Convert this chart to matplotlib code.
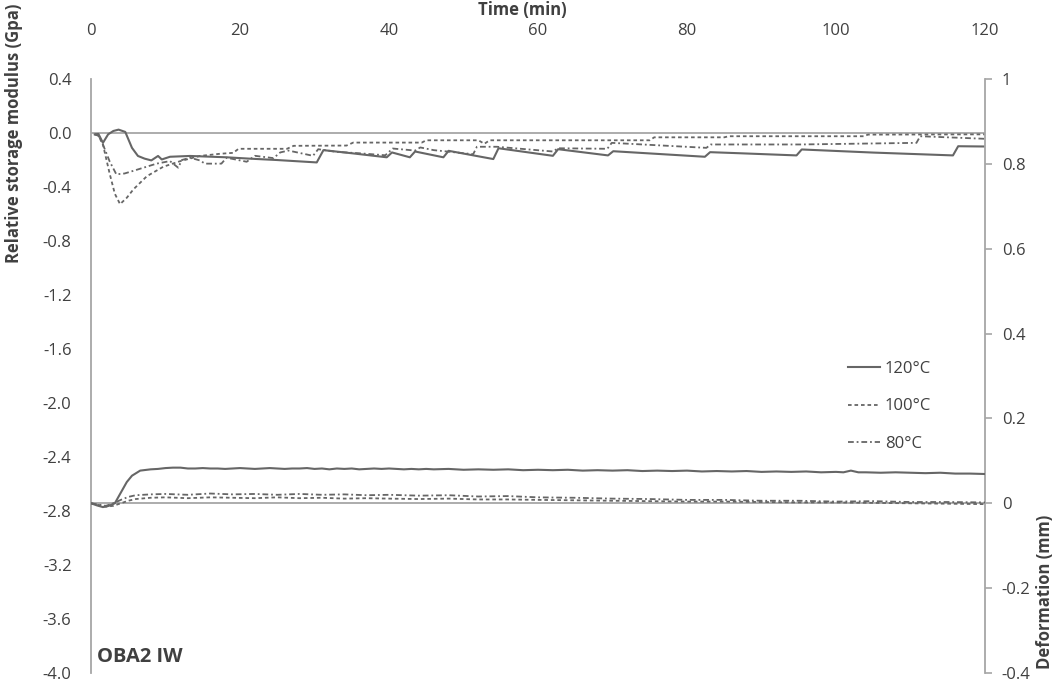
import matplotlib
matplotlib.use("Agg")
import matplotlib.pyplot as plt

plt.rcParams['font.family'] = ['Open Sans', 'DejaVu Sans']

# ---------------- data ----------------
# Relative storage modulus (GPa), left axis
t_g120 = [0.5, 1.0, 1.6, 2.3, 3.0, 3.7, 4.6, 5.5, 6.3, 7.2, 8.1, 9.0, 9.5, 10.6, 13.3, 18.2,
          21.3, 24.9, 30.3, 31.2, 35.0, 39.7, 40.4, 42.8, 43.5, 47.3, 48.0, 54.0, 54.7, 62.0,
          62.7, 69.4, 70.1, 82.4, 83.1, 87.1, 94.7, 95.4, 105.0, 115.7, 116.4, 120.0]
g120 = [-0.01, -0.007, -0.073, -0.01, 0.015, 0.025, 0.008, -0.11, -0.17, -0.19, -0.203, -0.17,
        -0.196, -0.176, -0.17, -0.18, -0.19, -0.2, -0.218, -0.127, -0.15, -0.18, -0.144, -0.18,
        -0.137, -0.18, -0.132, -0.193, -0.113, -0.169, -0.12, -0.166, -0.135, -0.176, -0.142,
        -0.15, -0.166, -0.122, -0.145, -0.166, -0.098, -0.1]

t_g100 = [0.5, 1.0, 1.6, 2.5, 3.2, 3.9, 4.8, 5.7, 7.5, 9.7, 11.9, 14.6, 17.3, 19.1, 19.8, 26.3,
          27.2, 34.3, 35.2, 44.4, 45.0, 52.0, 52.8, 53.5, 75.0, 75.6, 85.0, 85.6, 103.7, 104.3, 120.0]
g100 = [-0.01, -0.02, -0.085, -0.3, -0.45, -0.527, -0.48, -0.417, -0.32, -0.25, -0.21, -0.17,
        -0.154, -0.147, -0.117, -0.117, -0.095, -0.093, -0.071, -0.071, -0.054, -0.054, -0.08,
        -0.054, -0.054, -0.032, -0.032, -0.024, -0.024, -0.012, -0.01]

t_g80 = [0.5, 1.0, 1.6, 2.5, 3.4, 4.5, 5.7, 8.8, 10.6, 11.7, 12.2, 13.3, 14.6, 15.3, 17.5, 18.2,
         20.9, 22.0, 24.5, 25.4, 26.5, 29.8, 30.5, 33.0, 36.0, 39.5, 40.5, 43.5, 44.2, 46.0, 51.3,
         51.8, 54.5, 62.0, 62.7, 69.3, 69.9, 82.6, 83.2, 95.2, 110.8, 111.3, 120.0]
g80 = [-0.01, -0.02, -0.085, -0.21, -0.306, -0.3, -0.28, -0.227, -0.208, -0.257, -0.2, -0.183,
       -0.203, -0.227, -0.227, -0.183, -0.213, -0.169, -0.186, -0.144, -0.13, -0.169, -0.12,
       -0.14, -0.15, -0.165, -0.115, -0.13, -0.107, -0.127, -0.157, -0.102, -0.102, -0.137,
       -0.113, -0.117, -0.073, -0.11, -0.085, -0.085, -0.073, -0.024, -0.043]

# Deformation (mm), right axis
t_d120 = [0, 0.8, 1.6, 2.4, 3.2, 4.0, 4.8, 5.5, 6.6,
          8, 9, 10, 11, 12, 13, 14, 15, 16, 17, 18, 19, 20, 21, 22, 23, 24, 25, 26, 27, 28, 29,
          30, 31, 32, 33, 34, 35, 36, 37, 38, 39, 40, 41, 42, 43, 44, 45, 46,
          48, 50, 52, 54, 56, 58, 60, 62, 64, 66, 68, 70, 72, 74, 76, 78, 80, 82, 84, 86, 88, 90,
          92, 94, 96, 98, 100,
          101, 102, 103, 104,
          106, 108, 110, 112, 114, 116, 118, 120]
d120 = [0, -0.005, -0.009, -0.006, 0.0, 0.025, 0.05, 0.065, 0.077,
        0.080, 0.081, 0.083, 0.084, 0.084, 0.082, 0.082, 0.083, 0.082, 0.082, 0.081, 0.082, 0.083,
        0.082, 0.081, 0.082, 0.083, 0.082, 0.081, 0.082, 0.082, 0.083, 0.081, 0.082, 0.080, 0.082,
        0.081, 0.082, 0.080, 0.081, 0.082, 0.081, 0.082, 0.081, 0.080, 0.081, 0.080, 0.081, 0.080,
        0.081, 0.079, 0.080, 0.079, 0.080, 0.078, 0.079, 0.078, 0.079, 0.077, 0.078, 0.077, 0.078,
        0.076, 0.077, 0.076, 0.077, 0.075, 0.076, 0.075, 0.076, 0.074, 0.075, 0.074, 0.075, 0.073,
        0.074,
        0.073, 0.077, 0.073, 0.073,
        0.072, 0.073, 0.072, 0.071, 0.072, 0.070, 0.070, 0.069]

t_dsmall = [0, 1, 2, 3, 4, 5, 6, 8, 10, 13, 16, 19, 22, 25, 28, 31, 34, 37, 40, 44, 48, 52, 56,
            60, 65, 70, 75, 80, 85, 90, 95, 100, 105, 110, 115, 120]
d100 = [0, -0.004, -0.008, -0.006, 0.0, 0.006, 0.010, 0.013, 0.014,
        0.012, 0.014, 0.013, 0.012, 0.014, 0.012, 0.013, 0.011, 0.012, 0.011,
        0.010, 0.011, 0.009, 0.009, 0.008,
        0.007, 0.006, 0.005, 0.004, 0.004, 0.003, 0.002, 0.002, 0.001, 0.0, -0.001, -0.002]
d80 = [0, -0.003, -0.006, 0.0, 0.008, 0.015, 0.019, 0.021, 0.022,
       0.020, 0.023, 0.021, 0.022, 0.020, 0.022, 0.020, 0.021, 0.019, 0.020,
       0.018, 0.019, 0.016, 0.017, 0.014,
       0.013, 0.011, 0.010, 0.008, 0.008, 0.006, 0.006, 0.004, 0.005, 0.003, 0.003, 0.002]

labels = ['120°C', '100°C', '80°C']
x_ticks = [0, 20, 40, 60, 80, 100, 120]
left_ticks = [0.4, 0.0, -0.4, -0.8, -1.2, -1.6, -2.0, -2.4, -2.8, -3.2, -3.6, -4.0]
right_ticks = [1, 0.8, 0.6, 0.4, 0.2, 0, -0.2, -0.4]
right_labels = ['1', '0.8', '0.6', '0.4', '0.2', '0', '-0.2', '-0.4']

# ---------------- figure ----------------
W, H = 1059, 684
fig = plt.figure(figsize=(W / 100, H / 100), dpi=100)
x0, x1, ytop, ybot = 91, 985, 79, 673
ax = fig.add_axes([x0 / W, 1 - ybot / H, (x1 - x0) / W, (ybot - ytop) / H])
ax2 = ax.twinx()

txt = '#404040'
axc = '#a6a6a6'
lc = '#666666'
fs = 12

# zero lines (Excel style horizontal axes)
ax.axhline(0, color=axc, lw=1.3, zorder=1)
ax2.axhline(0, color=axc, lw=1.3, zorder=1)

s100 = (0, (2.0, 1.6))
s80 = (0, (3.2, 1.6, 1.0, 1.6))

h1, = ax.plot(t_g120, g120, color=lc, lw=1.5, ls='-', label=labels[0], zorder=3)
h2, = ax.plot(t_g100, g100, color=lc, lw=1.3, ls=s100, label=labels[1], zorder=3)
h3, = ax.plot(t_g80, g80, color=lc, lw=1.3, ls=s80, label=labels[2], zorder=3)

ax2.plot(t_d120, d120, color=lc, lw=1.5, ls='-', zorder=3)
ax2.plot(t_dsmall, d100, color=lc, lw=1.3, ls=s100, zorder=3)
ax2.plot(t_dsmall, d80, color=lc, lw=1.3, ls=s80, zorder=3)

ax.set_xlim(0, 120)
ax.set_ylim(-4.0, 0.4)
ax2.set_ylim(-0.4, 1.0)

for a in (ax, ax2):
    for s in ('top', 'bottom'):
        a.spines[s].set_visible(False)
ax.spines['right'].set_visible(False)
ax.spines['left'].set_color(axc)
ax.spines['left'].set_linewidth(1.3)
ax2.spines['left'].set_visible(False)
ax2.spines['right'].set_color(axc)
ax2.spines['right'].set_linewidth(1.3)

ax.xaxis.tick_top()
ax.set_xticks(x_ticks)
ax.set_xticklabels([str(v) for v in x_ticks])
ax.tick_params(axis='x', length=0, pad=29, labelsize=fs, labelcolor=txt)

ax.set_yticks(left_ticks)
ax.set_yticklabels([f'{v:.1f}' for v in left_ticks])
ax.tick_params(axis='y', length=0, pad=14, labelsize=fs, labelcolor=txt)

ax2.set_yticks(right_ticks)
ax2.set_yticklabels(right_labels)
ax2.tick_params(axis='y', length=5, width=1.2, color=axc, pad=7, labelsize=fs, labelcolor=txt)

fig.text(522 / W, 1 - 10 / H, 'Time (min)', ha='center', va='center',
         fontsize=12, fontweight='bold', color=txt)
fig.text(14 / W, 1 - 133 / H, 'Relative storage modulus (Gpa)', rotation=90, ha='center',
         va='center', fontsize=12, fontweight='bold', color=txt)
fig.text(1045 / W, 1 - 592 / H, 'Deformation (mm)', rotation=90, ha='center',
         va='center', fontsize=12, fontweight='bold', color=txt)
fig.text(97 / W, 1 - 657 / H, 'OBA2 IW', ha='left', va='center',
         fontsize=14.5, fontweight='bold', color=txt)

leg = ax.legend(handles=[h1, h2, h3], loc='upper left', bbox_to_anchor=(848 / W, 1 - 361 / H),
                bbox_transform=fig.transFigure, frameon=False, fontsize=fs, handlelength=1.92,
                handletextpad=0.3, labelspacing=1.28, borderpad=0, borderaxespad=0)
for t in leg.get_texts():
    t.set_color(txt)

fig.savefig('out.png', dpi=100, facecolor='white')
